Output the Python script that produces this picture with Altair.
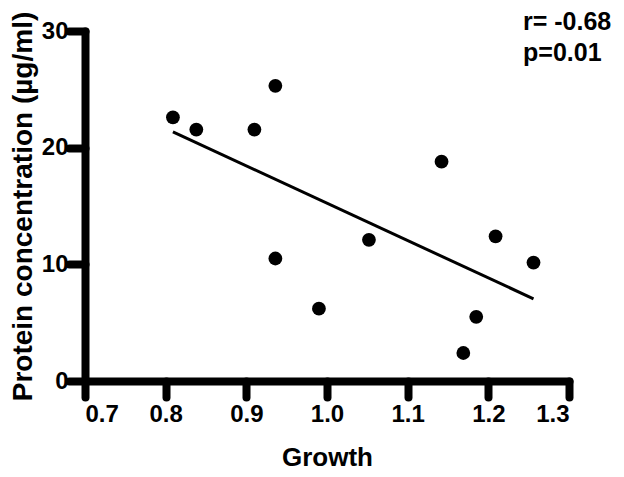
import altair as alt
import pandas as pd

growth = [0.809, 0.838, 0.910, 0.936, 0.936, 0.990, 1.052, 1.142, 1.209, 1.256, 1.185, 1.169]
protein = [22.6, 21.55, 21.55, 25.3, 10.5, 6.2, 12.1, 18.8, 12.4, 10.15, 5.5, 2.4]

x_ticks = [0.7, 0.8, 0.9, 1.0, 1.1, 1.2, 1.3]
y_ticks = [0, 10, 20, 30]

annot_lines = ["r= -0.68", "p=0.01"]
annot_x = [1.243]
annot_y = [31.8]

df = pd.DataFrame({"Growth": growth, "Protein": protein})
ann = pd.DataFrame({"x": annot_x, "y": annot_y, "t": [annot_lines]})

FONT = "Liberation Sans"

xscale = alt.Scale(domain=[0.7, 1.3], nice=False, zero=False)
yscale = alt.Scale(domain=[0, 30], nice=False)

common = dict(
    grid=False,
    domainColor="black", domainWidth=8, domainCap="round",
    tickColor="black", tickWidth=8, tickSize=16, tickCap="round",
    labelFont=FONT, labelFontWeight="bold", labelFontSize=24, labelColor="black",
    titleFont=FONT, titleFontWeight="bold", titleColor="black",
)

xaxis = alt.Axis(values=x_ticks, format=".1f", title="Growth",
                 labelPadding=5, titlePadding=18, titleFontSize=26, **common)
yaxis = alt.Axis(values=y_ticks, format="d", title="Protein concentration (µg/ml)",
                 labelPadding=1, titlePadding=4, titleFontSize=28, **common)

points = alt.Chart(df).mark_circle(size=190, color="black", opacity=1).encode(
    x=alt.X("Growth:Q", scale=xscale, axis=xaxis),
    y=alt.Y("Protein:Q", scale=yscale, axis=yaxis),
)

line = alt.Chart(df).mark_line(color="black", strokeWidth=3).transform_regression(
    "Growth", "Protein"
).encode(
    x=alt.X("Growth:Q", scale=xscale, axis=xaxis),
    y=alt.Y("Protein:Q", scale=yscale, axis=yaxis),
)

text = alt.Chart(ann).mark_text(
    align="left", baseline="top", font=FONT, fontWeight="bold", fontSize=25,
    lineHeight=31, color="black", clip=False
).encode(
    x=alt.X("x:Q", scale=xscale, axis=xaxis),
    y=alt.Y("y:Q", scale=yscale, axis=yaxis),
    text="t",
)

chart = alt.layer(points, line, text).properties(
    width=484, height=350,
    autosize=alt.AutoSizeParams(type="none"),
    padding={"left": 77, "top": 23, "right": 47, "bottom": 95},
).configure_view(stroke=None)

chart.save("out.html", embed_options={"renderer": "svg", "actions": False})
